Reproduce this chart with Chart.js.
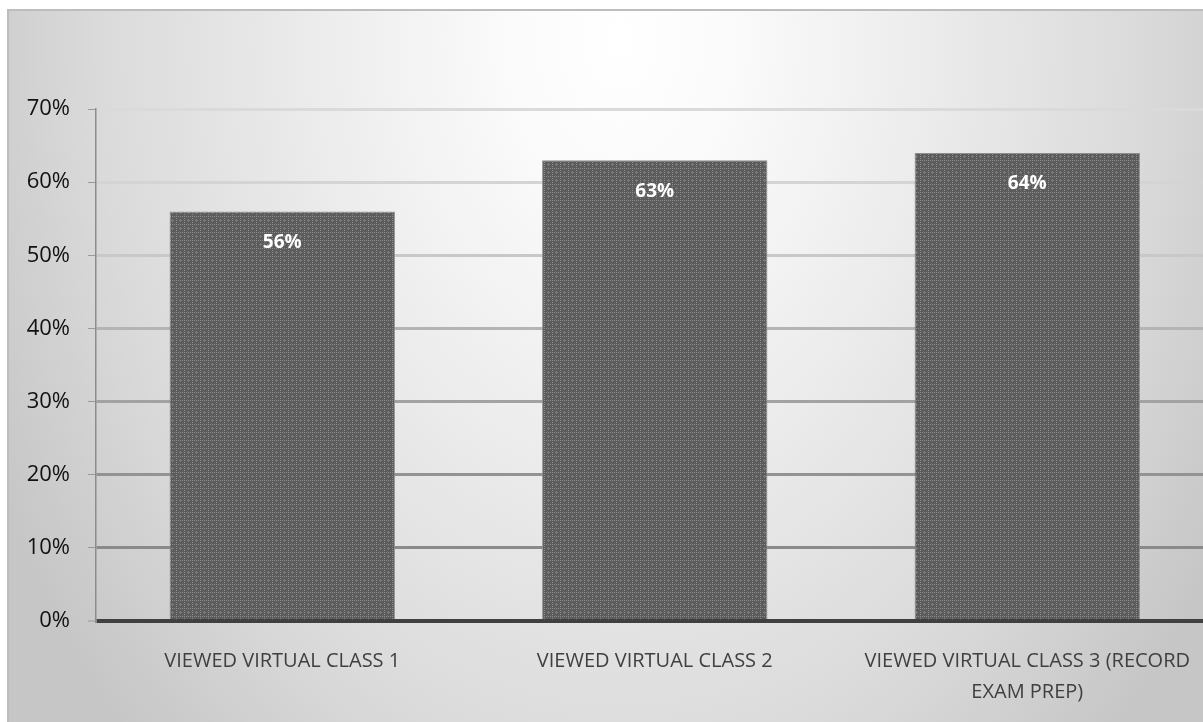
<!DOCTYPE html>
<html>
<head>
<meta charset="utf-8">
<script src="https://cdn.jsdelivr.net/npm/chart.js@4.4.0/dist/chart.umd.min.js"></script>
<style>
    html, body { margin: 0; padding: 0; overflow: hidden; background: #fff; }
    #wrap { width: 1215px; height: 722px; }
</style>
</head>
<body>
<div id="wrap"><canvas id="chart"></canvas></div>
<script>
const categories = [
    ["VIEWED VIRTUAL CLASS 1"],
    ["VIEWED VIRTUAL CLASS 2"],
    ["VIEWED VIRTUAL CLASS 3 (RECORD", "EXAM PREP)"]
];
const viewedShare = [56, 63, 64];
const yTickValues = [0, 10, 20, 30, 40, 50, 60, 70];
const gridShades = ["#404040", "#8a8a8a", "#939393", "#a2a2a2", "#b4b4b4", "#c8c8c8", "#d4d4d4", "#dadada"];

// dotted texture for the bars
function makePattern() {
    const c = document.createElement("canvas");
    c.width = 8;
    c.height = 8;
    const g = c.getContext("2d");
    g.fillStyle = "#5c5c5c";
    g.fillRect(0, 0, 8, 8);
    g.fillStyle = "#8c8c8c";
    for (let i = 0; i < 8; i += 2) {
        g.fillRect(i, 0, 1, 1);
        g.fillRect(0, i, 1, 1);
    }
    g.fillStyle = "#7a7a7a";
    g.fillRect(4, 4, 1, 1);
    g.fillRect(3, 4, 1, 1);
    g.fillRect(5, 4, 1, 1);
    g.fillRect(4, 3, 1, 1);
    g.fillRect(4, 5, 1, 1);
    return g.createPattern(c, "repeat");
}

const frameBackground = {
    id: "frameBackground",
    beforeDraw(chart) {
        const ctx = chart.ctx;
        const w = chart.width, h = chart.height;
        ctx.save();
        ctx.fillStyle = "#fff";
        ctx.fillRect(0, 0, w, h);
        // soft elliptical light spot near the top centre
        ctx.save();
        ctx.translate(620, 40);
        ctx.scale(1, 1.4);
        const grad = ctx.createRadialGradient(0, 0, 0, 0, 0, 700);
        grad.addColorStop(0, "#ffffff");
        grad.addColorStop(0.15, "#fbfbfb");
        grad.addColorStop(0.4, "#eeeeee");
        grad.addColorStop(0.75, "#dadada");
        grad.addColorStop(1, "#c6c6c6");
        ctx.fillStyle = grad;
        ctx.fillRect(8 - 620, (10 - 40) / 1.4, w, h / 1.4 + 50);
        ctx.restore();
        ctx.strokeStyle = "#bdbdbd";
        ctx.lineWidth = 2;
        ctx.beginPath();
        ctx.moveTo(8, h + 2);
        ctx.lineTo(8, 10);
        ctx.lineTo(w + 2, 10);
        ctx.stroke();
        ctx.restore();
    }
};

const barLabels = {
    id: "barLabels",
    afterDatasetsDraw(chart) {
        const ctx = chart.ctx;
        const meta = chart.getDatasetMeta(0);
        ctx.save();
        ctx.fillStyle = "#ffffff";
        ctx.font = "bold 19px 'Open Sans'";
        ctx.textAlign = "center";
        ctx.textBaseline = "middle";
        meta.data.forEach((bar, i) => {
            ctx.fillText(viewedShare[i] + "%", bar.x, bar.y + 31);
        });
        ctx.restore();
    }
};

new Chart(document.getElementById("chart"), {
    type: "bar",
    data: {
        labels: categories,
        datasets: [{
            data: viewedShare,
            backgroundColor: makePattern(),
            borderColor: "#8e8e8e",
            borderWidth: 1,
            categoryPercentage: 1,
            barPercentage: 0.605
        }]
    },
    options: {
        responsive: true,
        maintainAspectRatio: false,
        animation: false,
        layout: { padding: { left: 8, top: 109, right: 0, bottom: 0 } },
        plugins: {
            legend: { display: false },
            tooltip: { enabled: false }
        },
        scales: {
            x: {
                grid: { display: false, drawTicks: false },
                border: { display: false },
                ticks: {
                    color: "#404040",
                    font: { family: "'Open Sans'", size: 20, lineHeight: 1.55 },
                    padding: 25,
                    maxRotation: 0,
                    autoSkip: false
                },
                afterFit(scale) { scale.height = 101; }
            },
            y: {
                min: 0,
                max: 70,
                afterBuildTicks(scale) {
                    scale.ticks = yTickValues.map(v => ({ value: v }));
                },
                ticks: {
                    color: "#111111",
                    font: { family: "'Open Sans'", size: 22 },
                    padding: 18,
                    callback: v => v + "%"
                },
                grid: {
                    color: ctx => gridShades[yTickValues.indexOf(ctx.tick.value)] || "#ccc",
                    lineWidth: ctx => ctx.tick.value === 0 ? 4 : 3,
                    tickColor: "#9a9a9a",
                    tickWidth: 1,
                    tickLength: 8
                },
                border: { color: "#8c8c8c", width: 1.5 },
                afterFit(scale) { scale.width = 88; }
            }
        }
    },
    plugins: [frameBackground, barLabels]
});
</script>
</body>
</html>
